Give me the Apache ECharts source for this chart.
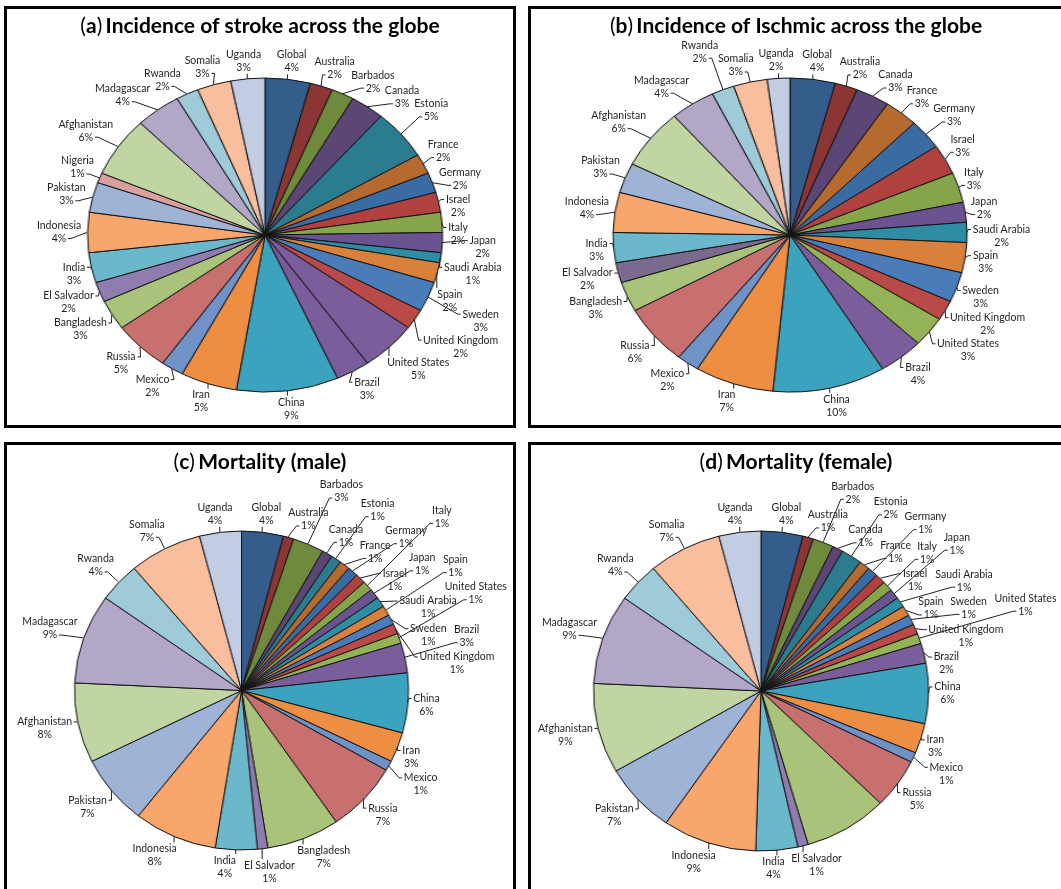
<!DOCTYPE html>
<html>
<head>
<meta charset="utf-8">
<script src="https://cdn.jsdelivr.net/npm/echarts@6/dist/echarts.min.js"></script>
<style>
  html, body { margin: 0; padding: 0; background: #fff; }
  #stage { position: relative; width: 1061px; height: 889px; overflow: hidden; background: #fff; }
  .pie { position: absolute; transform-origin: 50% 50%; }
  #overlay { position: absolute; left: 0; top: 0; width: 1061px; height: 889px; }
</style>
</head>
<body>
<div id="stage"></div>
<script>
// ---- data -------------------------------------------------------------
const countriesA = ['Global', 'Australia', 'Barbados', 'Canada', 'Estonia', 'France', 'Germany', 'Israel', 'Italy', 'Japan',
  'Saudi Arabia', 'Spain', 'Sweden', 'United Kingdom', 'United States', 'Brazil', 'China', 'Iran', 'Mexico', 'Russia',
  'Bangladesh', 'El Salvador', 'India', 'Indonesia', 'Pakistan', 'Nigeria', 'Afghanistan', 'Madagascar', 'Rwanda', 'Somalia', 'Uganda'];
const strokeIncidence = [4, 2, 2, 3, 5, 2, 2, 2, 2, 2, 1, 2, 3, 2, 5, 3, 9, 5, 2, 5, 3, 2, 3, 4, 3, 1, 6, 4, 2, 3, 3];

const countriesB = ['Global', 'Australia', 'Canada', 'France', 'Germany', 'Israel', 'Italy', 'Japan', 'Saudi Arabia', 'Spain',
  'Sweden', 'United Kingdom', 'United States', 'Brazil', 'China', 'Iran', 'Mexico', 'Russia', 'Bangladesh', 'El Salvador',
  'India', 'Indonesia', 'Pakistan', 'Afghanistan', 'Madagascar', 'Rwanda', 'Somalia', 'Uganda'];
const ischemicIncidence = [4, 2, 3, 3, 3, 3, 3, 2, 2, 3, 3, 2, 3, 4, 10, 7, 2, 6, 3, 2, 3, 4, 3, 6, 4, 2, 3, 2];

const countriesMortality = ['Global', 'Australia', 'Barbados', 'Canada', 'Estonia', 'France', 'Germany', 'Israel', 'Italy', 'Japan',
  'Saudi Arabia', 'Spain', 'Sweden', 'United Kingdom', 'United States', 'Brazil', 'China', 'Iran', 'Mexico', 'Russia',
  'Bangladesh', 'El Salvador', 'India', 'Indonesia', 'Pakistan', 'Afghanistan', 'Madagascar', 'Rwanda', 'Somalia', 'Uganda'];
const mortalityMale = [4, 1, 3, 1, 1, 1, 1, 1, 1, 1, 1, 1, 1, 1, 1, 3, 6, 3, 1, 7, 7, 1, 4, 8, 7, 8, 9, 4, 7, 4];
const mortalityFemale = [4, 1, 2, 1, 2, 1, 1, 1, 1, 1, 1, 1, 1, 1, 1, 2, 6, 3, 1, 5, 8, 1, 4, 9, 7, 9, 9, 4, 7, 4];
const unlabeledFemale = ['Bangladesh'];

// ---- styling ----------------------------------------------------------
const countryColor = {
  'Global': '#345d8b', 'Australia': '#8b3634', 'Barbados': '#6f8a3d', 'Canada': '#5b4676', 'Estonia': '#2b7c8e',
  'France': '#b56a2f', 'Germany': '#3a6ca4', 'Israel': '#b0413f', 'Italy': '#86a54b', 'Japan': '#6b5290',
  'Saudi Arabia': '#2e8ca3', 'Spain': '#d9813b', 'Sweden': '#4a7cba', 'United Kingdom': '#b94a48', 'United States': '#94b356',
  'Brazil': '#7b5d9b', 'China': '#3ca3be', 'Iran': '#ed8e42', 'Mexico': '#6f93c7', 'Russia': '#c87070',
  'Bangladesh': '#a9c47a', 'El Salvador': '#8f7daf', 'India': '#6bb7cc', 'Indonesia': '#f9a66d', 'Pakistan': '#9fb3d7',
  'Nigeria': '#d9a0a0', 'Afghanistan': '#c1d5a3', 'Madagascar': '#b3a7c7', 'Rwanda': '#9fcad8', 'Somalia': '#f9be9d',
  'Uganda': '#c2cde3'
};
const TEXT = '#231f20';
const LABEL_FONT = 'Lato, "Open Sans", sans-serif';
const LABEL_SIZE = 10.5;
const LINE_H = 13;

const panels = [
  { letter: 'a', title: 'Incidence of stroke across the globe', names: countriesA, values: strokeIncidence,
    colorOverride: { 'United States': '#7b5d9b' }, hidden: [],
    frame: [5.5, 7.5, 509, 419], titleX: 260, titleY: 26,
    cx: 264.5, cy: 235, rx: 177.5, ry: 157, bounds: [9, 38, 511, 424],
    padX: 2.5, padY: 0, sideCost: 1.6 },
  { letter: 'b', title: 'Incidence of Ischmic across the globe', names: countriesB, values: ischemicIncidence,
    colorOverride: { 'El Salvador': '#7a6a8e' }, hidden: [],
    frame: [529.5, 7.5, 580, 419], titleX: 796, titleY: 26,
    cx: 790, cy: 235, rx: 177, ry: 157, bounds: [533, 38, 1059, 424],
    padX: 2.5, padY: 0, sideCost: 1.6 },
  { letter: 'c', title: 'Mortality (male)', names: countriesMortality, values: mortalityMale,
    colorOverride: {}, hidden: [],
    frame: [5.5, 443.5, 509, 480], titleX: 260, titleY: 462,
    cx: 241, cy: 690, rx: 167, ry: 159.5, bounds: [9, 475, 511, 888],
    padX: 5, padY: 1, sideCost: 2.2 },
  { letter: 'd', title: 'Mortality (female)', names: countriesMortality, values: mortalityFemale,
    colorOverride: {}, hidden: unlabeledFemale,
    frame: [529.5, 443.5, 580, 480], titleX: 796, titleY: 462,
    cx: 761, cy: 690.5, rx: 167.5, ry: 160, bounds: [533, 475, 1059, 888],
    padX: 5, padY: 1, sideCost: 2.2 }
];

function sliceData(p, withLabels) {
  return p.names.map((name, i) => {
    const item = {
      name: name,
      value: p.values[i],
      itemStyle: { color: p.colorOverride[name] || countryColor[name] }
    };
    if (withLabels) {
      item.itemStyle = { color: 'rgba(0,0,0,0)', borderWidth: 0 };
      if (p.hidden.indexOf(name) >= 0) {
        item.label = { show: false };
        item.labelLine = { show: false };
      }
    }
    return item;
  });
}

const measureCtx = document.createElement('canvas').getContext('2d');
measureCtx.font = LABEL_SIZE + 'px ' + LABEL_FONT;

// Places each two-line label just outside the elliptical pie at its slice's mid-angle,
// stepping outward / sideways until both text lines clear the pie and the lines already placed.
// Labels nearest to 12 o'clock are placed first.
function computeLabelPlacement(p) {
  const total = p.values.reduce((s, v) => s + v, 0);
  const gap = 5;
  const K = 1.8;
  const cands = [];
  for (let t = 0; t <= 170; t += 2) {
    for (let s = -140; s <= 140; s += 2) cands.push([t + Math.abs(s) * p.sideCost, t, s]);
  }
  cands.sort((m, n) => m[0] - n[0]);

  const placed = [];
  function insideEllipse(x, y, m) {
    const dx = (x - p.cx) / (p.rx + m), dy = (y - p.cy) / (p.ry + m);
    return dx * dx + dy * dy < 1;
  }
  function lineRects(x, y, w1, w2) {
    return [[x - w1 / 2, y - LINE_H, x + w1 / 2, y], [x - w2 / 2, y, x + w2 / 2, y + LINE_H]];
  }
  function rectOk(r) {
    const B = p.bounds;
    if (r[0] < B[0] || r[2] > B[2] || r[1] < B[1] || r[3] > B[3]) return false;
    for (const q of placed) {
      if (r[0] < q[2] + p.padX && r[2] > q[0] - p.padX && r[1] < q[3] + p.padY && r[3] > q[1] - p.padY) return false;
    }
    for (let k = 0; k <= 6; k++) {
      const fx = r[0] + (r[2] - r[0]) * k / 6, fy = r[1] + (r[3] - r[1]) * k / 6;
      if (insideEllipse(fx, r[1], 3) || insideEllipse(fx, r[3], 3) || insideEllipse(r[0], fy, 3) || insideEllipse(r[2], fy, 3)) return false;
    }
    return true;
  }

  const items = [];
  let acc = 0;
  p.values.forEach((v, i) => {
    const a = (acc + v / 2) / total * Math.PI * 2;
    acc += v;
    items.push({ i: i, a: a, v: v });
  });
  const order = items
    .filter(it => p.hidden.indexOf(p.names[it.i]) < 0)
    .sort((m, n) => Math.min(m.a, 2 * Math.PI - m.a) - Math.min(n.a, 2 * Math.PI - n.a));

  const result = [];
  order.forEach(it => {
    const name = p.names[it.i];
    const w1 = Math.ceil(measureCtx.measureText(name).width) + 1;
    const w2 = Math.ceil(measureCtx.measureText(it.v + '%').width) + 1;
    const w = Math.max(w1, w2), h = LINE_H * 2;
    const ux = Math.sin(it.a), uy = -Math.cos(it.a);
    const tx = -uy, ty = ux;
    const px = p.cx + p.rx * ux, py = p.cy + p.ry * uy;
    const ex = Math.sign(ux) * Math.min(1, Math.abs(ux) * K) * w / 2;
    const ey = Math.sign(uy) * Math.min(1, Math.abs(uy) * K) * h / 2;
    let x = px + ux * gap + ex, y = py + uy * gap + ey;
    for (const c of cands) {
      const cx = px + ux * (gap + c[1]) + ex + tx * c[2];
      const cy = py + uy * (gap + c[1]) + ey + ty * c[2];
      if (lineRects(cx, cy, w1, w2).every(rectOk)) { x = cx; y = cy; break; }
    }
    const rs = lineRects(x, y, w1, w2);
    rs.forEach(r => placed.push(r));
    // leader line: to the side of the nearer text line, or to the top / bottom edge
    const near = Math.abs(py - (y - LINE_H / 2)) < Math.abs(py - (y + LINE_H / 2)) ? rs[0] : rs[1];
    const ly = (near[1] + near[3]) / 2;
    let q, m;
    if (px < near[0]) { q = [near[0] - 1, ly]; m = [q[0] - 3, ly]; }
    else if (px > near[2]) { q = [near[2] + 1, ly]; m = [q[0] + 3, ly]; }
    else if (py < y) { q = [px, y - h / 2]; m = q; }
    else { q = [px, y + h / 2]; m = q; }
    result[it.i] = { x: x, y: y, align: 'center', verticalAlign: 'middle', labelLinePoints: [[px, py], m, q] };
  });
  return result;
}

const stage = document.getElementById('stage');

// Elliptical pies: a circular pie stretched horizontally by CSS.
panels.forEach(p => {
  const size = Math.ceil(2 * p.ry + 10);
  const d = document.createElement('div');
  d.className = 'pie';
  d.style.width = size + 'px';
  d.style.height = size + 'px';
  d.style.left = (p.cx - size / 2) + 'px';
  d.style.top = (p.cy - size / 2) + 'px';
  d.style.transform = 'scaleX(' + (p.rx / p.ry) + ')';
  stage.appendChild(d);
  const chart = echarts.init(d, null, { renderer: 'canvas' });
  chart.setOption({
    animation: false,
    backgroundColor: 'transparent',
    series: [{
      type: 'pie',
      center: ['50%', '50%'],
      radius: p.ry,
      startAngle: 90,
      clockwise: true,
      silent: true,
      label: { show: false },
      labelLine: { show: false },
      emphasis: { disabled: true },
      itemStyle: { borderColor: '#111', borderWidth: 1 },
      data: sliceData(p, false)
    }]
  });
});

// Frames, titles and slice labels.
const overlay = document.createElement('div');
overlay.id = 'overlay';
stage.appendChild(overlay);
const labelChart = echarts.init(overlay, null, { renderer: 'canvas' });

const graphics = [];
panels.forEach(p => {
  graphics.push({
    type: 'rect', silent: true,
    shape: { x: p.frame[0], y: p.frame[1], width: p.frame[2], height: p.frame[3] },
    style: { fill: 'none', stroke: '#000', lineWidth: 3 }
  });
  graphics.push({
    type: 'text', silent: true, x: p.titleX, y: p.titleY,
    style: {
      text: '{r|(}{b|' + p.letter + '}{r|)} {b|' + p.title + '}',
      align: 'center', verticalAlign: 'middle', fill: '#000',
      rich: {
        r: { fontFamily: LABEL_FONT, fontSize: 21, fontWeight: 'normal', fill: '#000' },
        b: { fontFamily: LABEL_FONT, fontSize: 21, fontWeight: 'bold', fill: '#000' }
      }
    }
  });
});

labelChart.setOption({
  animation: false,
  backgroundColor: 'transparent',
  graphic: graphics,
  series: panels.map(p => {
    const placement = computeLabelPlacement(p);
    return {
      type: 'pie',
      center: [p.cx, p.cy],
      radius: p.ry,
      startAngle: 90,
      clockwise: true,
      silent: true,
      avoidLabelOverlap: false,
      emphasis: { disabled: true },
      itemStyle: { color: 'rgba(0,0,0,0)', borderWidth: 0 },
      label: {
        show: true, position: 'outside', formatter: '{b}\n{c}%',
        fontFamily: LABEL_FONT, fontSize: LABEL_SIZE, lineHeight: LINE_H, color: TEXT, align: 'center'
      },
      labelLine: { show: true, length: 6, length2: 6, lineStyle: { color: TEXT, width: 1 } },
      labelLayout: params => placement[params.dataIndex] || {},
      data: sliceData(p, true)
    };
  })
});
</script>
</body>
</html>
